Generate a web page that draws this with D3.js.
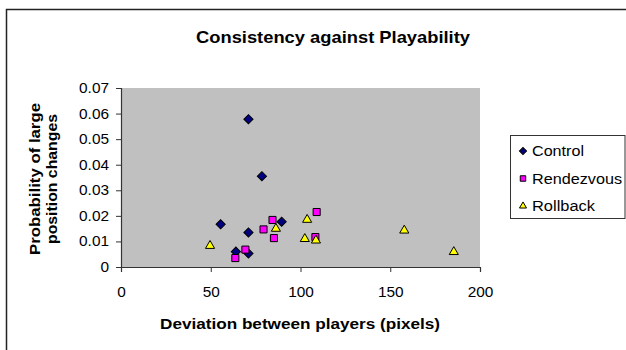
<!DOCTYPE html>
<html>
<head>
<meta charset="utf-8">
<script src="https://cdn.jsdelivr.net/npm/d3@7"></script>
<style>
  body { margin: 0; background: #fff; }
  text { font-family: "Liberation Sans", Arial, sans-serif; fill: #000; }
</style>
</head>
<body>
<div id="chart"></div>
<script>
// Data
const controlX = [71, 78.5, 55.5, 71, 89.5, 64, 71];
const controlY = [0.0578, 0.0355, 0.0167, 0.0135, 0.0177, 0.006, 0.0053];
const rendezvousX = [63.7, 69.3, 79.4, 84.4, 85.2, 109, 108.3];
const rendezvousY = [0.0035, 0.0068, 0.0147, 0.0184, 0.0113, 0.0215, 0.0117];
const rollbackX = [49.6, 86.3, 103.7, 102.4, 108.6, 157.8, 185.4];
const rollbackY = [0.0083, 0.015, 0.0185, 0.011, 0.0104, 0.0143, 0.0059];
const xTicks = [0, 50, 100, 150, 200];
const yTicks = [0, 0.01, 0.02, 0.03, 0.04, 0.05, 0.06, 0.07];

const width = 626, height = 350;
const plot = { left: 121, right: 480, top: 88, bottom: 267 };

const svg = d3.select("#chart").append("svg")
    .attr("width", width)
    .attr("height", height);

// outer chart border (right and bottom edges fall outside the picture)
svg.append("rect")
    .attr("x", 6.5).attr("y", 9.5)
    .attr("width", 640).attr("height", 360)
    .attr("fill", "#fff")
    .attr("stroke", "#222")
    .attr("stroke-width", 1.5);

const x = d3.scaleLinear().domain([0, 200]).range([plot.left, plot.right]);
const y = d3.scaleLinear().domain([0, 0.07]).range([plot.bottom, plot.top]);

// gray plot area
svg.append("rect")
    .attr("x", plot.left).attr("y", plot.top)
    .attr("width", plot.right - plot.left)
    .attr("height", plot.bottom - plot.top)
    .attr("fill", "#c0c0c0");

// axes
const xAxis = svg.append("g")
    .attr("transform", `translate(0,${plot.bottom})`)
    .call(d3.axisBottom(x).tickValues(xTicks).tickSize(5).tickPadding(15).tickFormat(d3.format("d")));
const yAxis = svg.append("g")
    .attr("transform", `translate(${plot.left},0)`)
    .call(d3.axisLeft(y).tickValues(yTicks).tickSize(5).tickPadding(7).tickFormat(d => d === 0 ? "0" : d3.format(".2f")(d)));

[xAxis, yAxis].forEach(a => {
    a.select(".domain").attr("stroke", "#333").attr("stroke-width", 1.2);
    a.selectAll(".tick line").attr("stroke", "#333");
    a.selectAll("text")
        .style("font-family", "'Liberation Sans', Arial, sans-serif")
        .style("font-size", "14px")
        .attr("fill", "#000")
        .each(function() {
            // the reference glyphs run a little wide
            const w = this.getComputedTextLength();
            d3.select(this).attr("textLength", w * 1.1).attr("lengthAdjust", "spacingAndGlyphs");
        });
});

// titles
svg.append("text")
    .attr("x", 333).attr("y", 43)
    .attr("text-anchor", "middle")
    .attr("textLength", 274).attr("lengthAdjust", "spacingAndGlyphs")
    .style("font-size", "17px")
    .style("font-weight", "bold")
    .text("Consistency against Playability");

svg.append("text")
    .attr("x", 300).attr("y", 329)
    .attr("text-anchor", "middle")
    .attr("textLength", 280).attr("lengthAdjust", "spacingAndGlyphs")
    .style("font-size", "14px")
    .style("font-weight", "bold")
    .text("Deviation between players (pixels)");

const yTitle = svg.append("text")
    .attr("transform", `translate(40,179) rotate(-90)`)
    .attr("text-anchor", "middle")
    .style("font-size", "14px")
    .style("font-weight", "bold");
yTitle.append("tspan").attr("x", 0).attr("y", 0)
    .attr("textLength", 152).attr("lengthAdjust", "spacingAndGlyphs")
    .text("Probability of large");
yTitle.append("tspan").attr("x", 0).attr("y", 17)
    .attr("textLength", 130).attr("lengthAdjust", "spacingAndGlyphs")
    .text("position changes");

// series: Excel-style diamond is a square turned 45 degrees
const series = [
    { name: "Control", xs: controlX, ys: controlY, shape: d3.symbolSquare, rot: 45, size: 42, fill: "#000080", textLen: 52 },
    { name: "Rendezvous", xs: rendezvousX, ys: rendezvousY, shape: d3.symbolSquare, rot: 0, size: 50, fill: "#ff00ff", textLen: 90 },
    { name: "Rollback", xs: rollbackX, ys: rollbackY, shape: d3.symbolTriangle, rot: 0, size: 36, fill: "#ffff00", textLen: 63 }
];

series.forEach(s => {
    const sym = d3.symbol().type(s.shape).size(s.size);
    svg.append("g").selectAll("path")
        .data(s.xs.map((v, i) => [v, s.ys[i]]))
        .enter()
        .append("path")
        .attr("d", sym)
        .attr("transform", d => `translate(${x(d[0])},${y(d[1])}) rotate(${s.rot})`)
        .attr("fill", s.fill)
        .attr("stroke", "#000")
        .attr("stroke-width", 1);
});

// legend
const legend = svg.append("g");
legend.append("rect")
    .attr("x", 510.5).attr("y", 135.5)
    .attr("width", 114.5).attr("height", 83)
    .attr("fill", "#fff")
    .attr("stroke", "#333");

series.forEach((s, i) => {
    const cy = 151 + i * 27.5;
    legend.append("path")
        .attr("d", d3.symbol().type(s.shape).size(s.size * 0.6))
        .attr("transform", `translate(523,${cy}) rotate(${s.rot})`)
        .attr("fill", s.fill)
        .attr("stroke", "#000");
    legend.append("text")
        .attr("x", 532).attr("y", cy + 5)
        .attr("textLength", s.textLen).attr("lengthAdjust", "spacingAndGlyphs")
        .style("font-size", "14px")
        .text(s.name);
});
</script>
</body>
</html>
